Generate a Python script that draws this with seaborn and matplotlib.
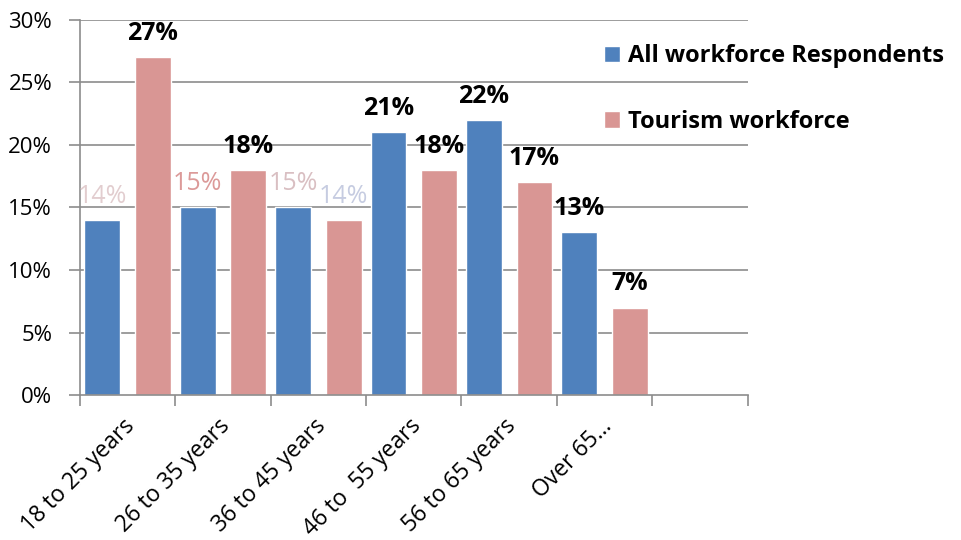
import matplotlib
matplotlib.use("Agg")
import matplotlib.pyplot as plt
import matplotlib.transforms as mtransforms
import seaborn as sns
import pandas as pd
from matplotlib.ticker import FixedLocator, NullFormatter

age_groups = ["18 to 25 years", "26 to 35 years", "36 to 45 years",
              "46 to  55 years", "56 to 65 years", "Over 65…"]
all_workforce = [14, 15, 15, 21, 22, 13]
tourism_workforce = [27, 18, 14, 18, 17, 7]
series_names = ["All workforce Respondents", "Tourism workforce"]
y_ticks = [0, 5, 10, 15, 20, 25, 30]

df = pd.DataFrame({
    "age": age_groups * 2,
    "series": [series_names[0]] * len(age_groups) + [series_names[1]] * len(age_groups),
    "value": all_workforce + tourism_workforce,
})

sns.set_theme(style="white")
plt.rcParams["font.family"] = ["Open Sans", "DejaVu Sans"]
plt.rcParams["text.color"] = "black"
plt.rcParams["xtick.labelcolor"] = "black"
plt.rcParams["ytick.labelcolor"] = "black"

fig = plt.figure(figsize=(9.61, 5.40), dpi=100)
ax = fig.add_axes([0.0832, 0.2685, 0.6948, 0.6945])

palette = {series_names[0]: "#4F81BD", series_names[1]: "#D99694"}
sns.barplot(data=df, x="age", y="value", hue="series", palette=palette,
            width=1.06, gap=0.29, saturation=1, ax=ax, legend=True)

grid_color = "#8C8C8C"
ax.set_ylim(0, 30)
ax.set_xlim(-0.5, 6.5)
ax.set_yticks(y_ticks)
ax.set_yticklabels([f"{t}%" for t in y_ticks], fontsize=16, color="black")
for t in y_ticks[1:]:
    ax.axhline(t, color=grid_color, lw=1.2, zorder=0)

# category labels at centres, tick marks at category boundaries
ax.set_xticks(range(len(age_groups)))
ax.set_xticklabels(age_groups, rotation=45, ha="right",
                   rotation_mode="anchor", fontsize=16.5, color="black")
ax.tick_params(axis="x", which="major", length=0, pad=14)
shift = mtransforms.ScaledTranslation(-5 / 100, 0, fig.dpi_scale_trans)
for lbl in ax.get_xticklabels():
    lbl.set_transform(lbl.get_transform() + shift)
ax.xaxis.set_minor_locator(FixedLocator([i - 0.5 for i in range(8)]))
ax.xaxis.set_minor_formatter(NullFormatter())
ax.tick_params(axis="x", which="minor", length=8, width=1.2,
               color=grid_color, direction="out", bottom=True)
ax.tick_params(axis="y", length=8, width=1.2, color=grid_color,
               direction="out", left=True, pad=12)

for side in ["top", "right"]:
    ax.spines[side].set_visible(False)
for side in ["left", "bottom"]:
    ax.spines[side].set_color(grid_color)
    ax.spines[side].set_linewidth(1.2)
ax.set_xlabel("")
ax.set_ylabel("")

# value labels above each bar
blue_colors = ["#E2CDCF", "#DC9A99", "#D9BFC2", "black", "black", "black"]
pink_colors = ["black", "black", "#C6CCE1", "black", "black", "black"]
for container, colors in zip(ax.containers, [blue_colors, pink_colors]):
    texts = ax.bar_label(container, labels=[f"{v:.0f}%" for v in container.datavalues],
                         padding=8, fontsize=18, fontweight="bold")
    for txt, c in zip(texts, colors):
        txt.set_color(c)
        if c != "black":
            txt.set_fontweight("normal")

leg = ax.legend(loc="upper left", bbox_to_anchor=(0.77, 0.96), frameon=False,
                prop={"weight": "bold", "size": 17},
                handlelength=0.7, handleheight=0.7, handletextpad=0.35,
                labelspacing=1.75, borderaxespad=0)
for t in leg.get_texts():
    t.set_color("black")

fig.savefig("out.png", dpi=100, facecolor="white")
